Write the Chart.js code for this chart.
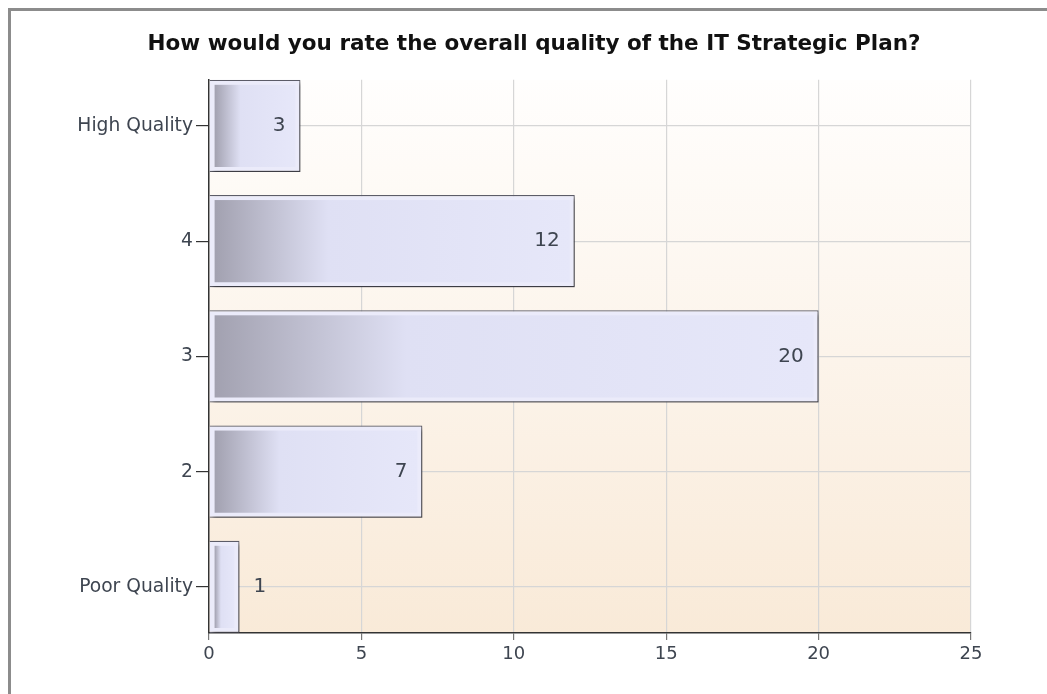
<!DOCTYPE html>
<html>
<head>
<meta charset="utf-8">
<script src="https://cdn.jsdelivr.net/npm/chart.js@4"></script>
<style>
    html, body { margin: 0; padding: 0; background: #fff; overflow: hidden; }
    #frame {
        position: absolute; left: 8px; top: 8px;
        width: 1060px; height: 700px;
        border-left: 3px solid #8c8c8c; border-top: 3px solid #8c8c8c;
        background: #fff;
    }
    #wrap { position: absolute; left: 0; top: 0; width: 1046px; height: 683px; }
</style>
</head>
<body>
<div id="frame"><div id="wrap"><canvas id="qualityChart"></canvas></div></div>
<script>
const categories = ['Poor Quality', '2', '3', '4', 'High Quality'];
const responses = [1, 7, 20, 12, 3];
const xTicks = [0, 5, 10, 15, 20, 25];

const FONT = '"DejaVu Sans", Verdana, sans-serif';

// peach gradient behind the plot
const plotBackground = {
    id: 'plotBackground',
    beforeDraw: (chart) => {
        const ctx = chart.ctx;
        const {top, left, width, height, bottom} = chart.chartArea;
        const g = ctx.createLinearGradient(0, top, 0, bottom);
        g.addColorStop(0, '#fffefd');
        g.addColorStop(1, '#f9ead8');
        ctx.save();
        ctx.fillStyle = g;
        ctx.fillRect(left, top, width, height);
        ctx.restore();
    }
};

// drop shadow, inner gradient panel and value labels
const barDecor = {
    id: 'barDecor',
    beforeDatasetsDraw: (chart) => {
        const ctx = chart.ctx;
        ctx.save();
        ctx.shadowColor = 'rgba(0, 0, 0, 0.4)';
        ctx.shadowBlur = 4;
        ctx.shadowOffsetX = 3;
        ctx.shadowOffsetY = 3;
    },
    afterDatasetsDraw: (chart) => {
        const ctx = chart.ctx;
        ctx.restore();
        const meta = chart.getDatasetMeta(0);
        ctx.save();
        meta.data.forEach((bar, i) => {
            const {x, y, base, height} = bar.getProps(['x', 'y', 'base', 'height'], true);
            const inset = 5;
            const x0 = base + inset, x1 = x - inset;
            const y0 = y - height / 2 + inset, y1 = y + height / 2 - inset;
            if (x1 > x0) {
                const g = ctx.createLinearGradient(x0, 0, x1, 0);
                g.addColorStop(0, '#a2a1b0');
                g.addColorStop(0.32, '#dfe0f4');
                g.addColorStop(1, '#e6e7f9');
                ctx.fillStyle = g;
                ctx.fillRect(x0, y0, x1 - x0, y1 - y0);
            }
            ctx.font = '20px ' + FONT;
            ctx.fillStyle = '#3e4550';
            ctx.textBaseline = 'middle';
            if (x - base > 40) {
                ctx.textAlign = 'right';
                ctx.fillText(String(responses[i]), x - 15, y);
            } else {
                ctx.textAlign = 'left';
                ctx.fillText(String(responses[i]), x + 14, y);
            }
        });
        ctx.restore();
    }
};

const chart = new Chart(document.getElementById('qualityChart'), {
    type: 'bar',
    data: {
        datasets: [{
            data: categories.map((c, i) => ({x: responses[i], y: i})),
            backgroundColor: '#ebebfa',
            borderColor: '#5e5e6a',
            borderWidth: 1.2,
            categoryPercentage: 0.8,
            barPercentage: 1,
        }]
    },
    options: {
        indexAxis: 'y',
        responsive: true,
        maintainAspectRatio: false,
        animation: false,
        layout: { padding: 0 },
        plugins: {
            legend: false,
            tooltip: { enabled: false },
            title: {
                display: true,
                text: 'How would you rate the overall quality of the IT Strategic Plan?',
                color: '#111',
                font: { family: FONT, size: 21.5, weight: 'bold' },
                padding: { top: 21, bottom: 22 },
            },
        },
        scales: {
            x: {
                type: 'linear',
                min: xTicks[0],
                max: xTicks[xTicks.length - 1],
                afterBuildTicks: (s) => { s.ticks = xTicks.map(v => ({value: v})); },
                afterFit: (s) => { s.height = 61; },
                ticks: { color: '#3e4550', font: { family: FONT, size: 18 }, padding: 4 },
                grid: { color: '#d6d6d6', lineWidth: 1.2, tickColor: '#777', tickLength: 7 },
                border: { color: '#333', width: 1.5 },
            },
            y: {
                type: 'linear',
                offset: false,
                bounds: 'data',
                min: -0.4,
                max: categories.length - 0.6,
                afterBuildTicks: (s) => { s.ticks = categories.map((c, i) => ({value: i})); },
                afterFit: (s) => { s.width = 198; },
                ticks: {
                    color: '#3e4550',
                    font: { family: FONT, size: 18.7 },
                    padding: 3,
                    callback: (v) => categories[v],
                },
                grid: { offset: false, color: '#d6d6d6', lineWidth: 1.2, tickColor: '#333', tickLength: 13 },
                border: { color: '#333', width: 1.5 },
            },
            // empty right-hand spacer so the title stays centred on the whole frame
            spacer: {
                type: 'linear',
                position: 'right',
                afterFit: (s) => { s.width = 86; },
                ticks: { display: false },
                grid: { display: false },
                border: { display: false },
            }
        }
    },
    plugins: [plotBackground, barDecor],
});
</script>
</body>
</html>
